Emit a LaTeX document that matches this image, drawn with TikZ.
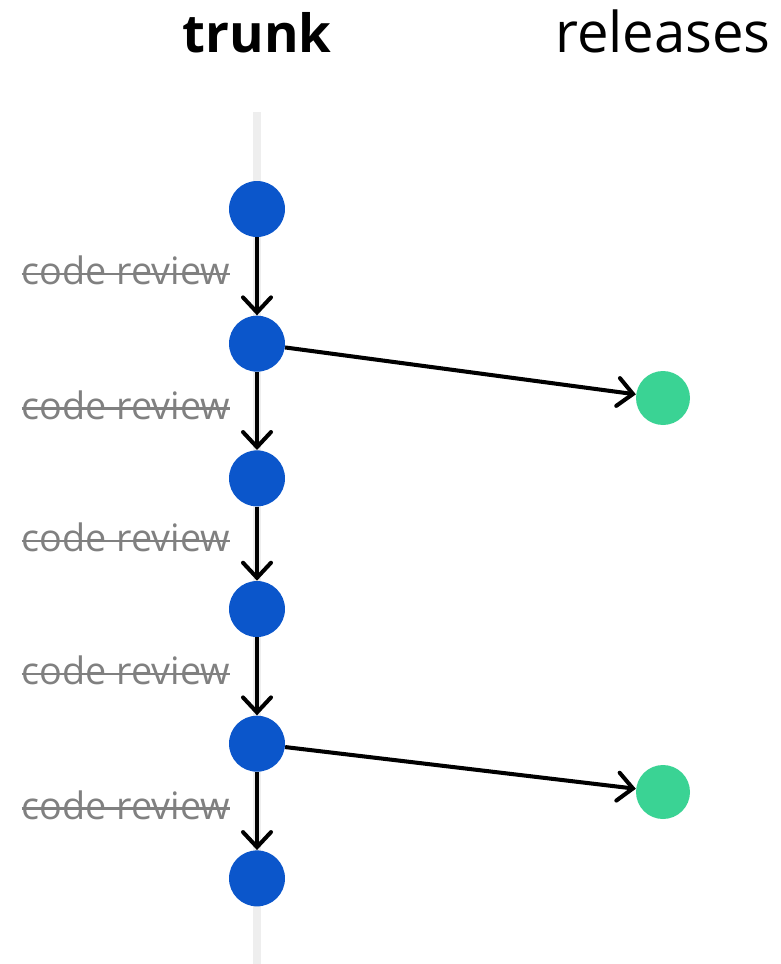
\documentclass[tikz,border=0pt]{standalone}
\usepackage{fontspec}
\setmainfont{Open Sans}
\usetikzlibrary{arrows.meta,positioning}
\definecolor{commitBlue}{HTML}{0B56CB}
\definecolor{releaseGreen}{HTML}{3AD394}
\definecolor{reviewGrey}{HTML}{808080}
\definecolor{trunkGrey}{HTML}{EEEEEE}

\begin{document}
\begin{tikzpicture}[
  x=0.02cm, y=-0.02cm,
  commit/.style={circle, fill=commitBlue, minimum size=1.12cm, inner sep=0pt},
  release/.style={circle, fill=releaseGreen, minimum size=1.08cm, inner sep=0pt},
  title/.style={anchor=base, font=\fontsize{32}{36}\selectfont},
  review/.style={left=0.5cm, inner sep=0pt, yshift=0.12cm, text=reviewGrey,
    font=\fontsize{21.5}{24}\selectfont,
    path picture={\draw[-, reviewGrey, line width=1.3pt]
      ([yshift=-2pt]path picture bounding box.west) -- ([yshift=-2pt]path picture bounding box.east);}},
  arr/.style={-{Straight Barb[length=0.3cm, width=0.56cm, line cap=round]}, line width=2.3pt}
]
  \useasboundingbox (0,0) rectangle (781,964);

  % headings
  \node[title, font=\fontsize{30}{34}\selectfont\bfseries] (trunk) at (257,52) {trunk};
  \node[title] (releases) at (663,52) {releases};

  % trunk line
  \coordinate (top) at (257,112);
  \coordinate (bottom) at (257,964);
  \draw[trunkGrey, line width=5pt] (top) -- (bottom);

  % commits on trunk
  \node[commit] (c1) at (257,209) {};
  \node[commit, below=1.56cm of c1] (c2) {};
  \node[commit, below=1.56cm of c2] (c3) {};
  \node[commit, below=1.48cm of c3] (c4) {};
  \node[commit, below=1.56cm of c4] (c5) {};
  \node[commit, below=1.56cm of c5] (c6) {};

  % releases
  \node[release] (r1) at (663,398) {};
  \node[release] (r2) at (663,792) {};

  \draw[arr] (c1) -- node[review] {code review} (c2);
  \draw[arr] (c2) -- node[review] {code review} (c3);
  \draw[arr] (c3) -- node[review] {code review} (c4);
  \draw[arr] (c4) -- node[review] {code review} (c5);
  \draw[arr] (c5) -- node[review] {code review} (c6);

  \draw[arr] (c2) -- (r1);
  \draw[arr] (c5) -- (r2);
\end{tikzpicture}
\end{document}
